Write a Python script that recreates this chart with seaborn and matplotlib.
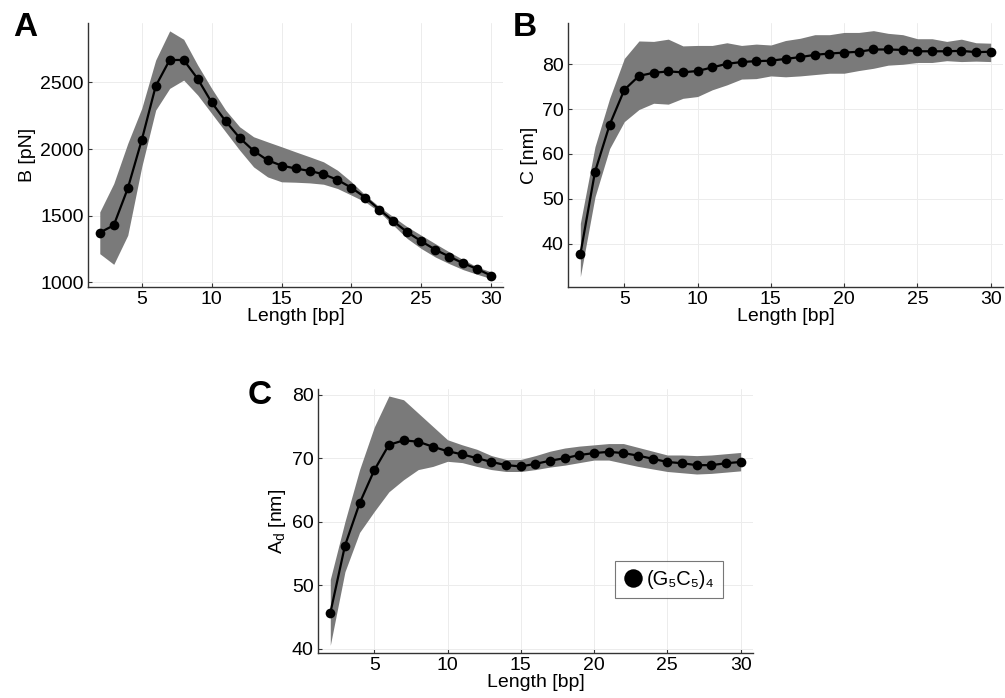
import matplotlib
matplotlib.use("Agg")
import matplotlib.pyplot as plt
import seaborn as sns
import numpy as np

length = list(range(2, 31))

# Panel A: B [pN]
b_mean = [1373, 1428, 1704, 2067, 2472, 2668, 2668, 2527, 2350, 2209, 2084, 1987, 1916, 1876,
          1854, 1836, 1811, 1769, 1709, 1636, 1546, 1458, 1376, 1308, 1245, 1193, 1143, 1100, 1050]
b_upper = [1528, 1741, 2042, 2305, 2668, 2886, 2823, 2630, 2455, 2292, 2167, 2092, 2054, 2017,
           1979, 1942, 1904, 1841, 1754, 1654, 1566, 1491, 1416, 1353, 1290, 1228, 1170, 1115, 1078]
b_lower = [1215, 1135, 1353, 1866, 2292, 2455, 2517, 2405, 2267, 2129, 1992, 1866, 1791, 1754,
           1751, 1746, 1736, 1704, 1654, 1603, 1528, 1428, 1328, 1253, 1190, 1140, 1095, 1060, 1028]

# Panel B: C [nm]
c_mean = [37.6, 56.0, 66.5, 74.3, 77.4, 78.1, 78.4, 78.2, 78.5, 79.3, 80.1, 80.5, 80.7, 80.8,
          81.2, 81.6, 82.1, 82.4, 82.6, 82.8, 83.3, 83.3, 83.2, 82.9, 82.9, 82.9, 83.0, 82.7, 82.8]
c_upper = [44.5, 61.6, 72.4, 81.3, 85.2, 85.1, 85.6, 84.1, 84.2, 84.2, 84.8, 84.2, 84.5, 84.3,
           85.3, 85.8, 86.6, 86.6, 87.1, 87.1, 87.5, 86.9, 86.6, 85.7, 85.7, 85.1, 85.6, 84.8, 84.7]
c_lower = [32.6, 50.4, 61.2, 67.2, 69.9, 71.3, 71.1, 72.4, 72.8, 74.3, 75.4, 76.7, 76.8, 77.4,
           77.2, 77.4, 77.7, 78.0, 78.0, 78.6, 79.1, 79.8, 80.0, 80.4, 80.4, 80.8, 80.6, 80.7, 80.6]

# Panel C: A_d [nm]
ad_mean = [45.6, 56.2, 62.9, 68.1, 72.1, 72.8, 72.6, 71.8, 71.1, 70.6, 70.0, 69.4, 68.9, 68.7,
           69.1, 69.6, 70.0, 70.5, 70.8, 71.0, 70.8, 70.4, 69.9, 69.4, 69.2, 68.9, 68.9, 69.2, 69.4]
ad_upper = [50.9, 60.0, 68.2, 74.9, 79.8, 79.2, 77.1, 75.0, 72.9, 72.1, 71.4, 70.4, 69.8, 69.8,
            70.4, 71.1, 71.6, 71.9, 72.1, 72.3, 72.3, 71.7, 71.1, 70.5, 70.5, 70.4, 70.5, 70.7, 70.9]
ad_lower = [40.5, 52.1, 58.3, 61.6, 64.7, 66.6, 68.2, 68.7, 69.5, 69.3, 68.7, 68.2, 67.9, 67.9,
            68.2, 68.6, 68.9, 69.3, 69.7, 69.7, 69.2, 68.7, 68.3, 67.9, 67.7, 67.5, 67.6, 67.8, 68.0]

legend_label = "(G\u2085C\u2085)\u2084"

sns.set_theme(style="whitegrid")
plt.rcParams["font.family"] = ["Liberation Sans", "DejaVu Sans"]
plt.rcParams["mathtext.fontset"] = "custom"
plt.rcParams["mathtext.rm"] = "Liberation Sans"
plt.rcParams["text.color"] = "black"
plt.rcParams["axes.labelcolor"] = "black"
plt.rcParams["xtick.color"] = "black"
plt.rcParams["ytick.color"] = "black"

fig = plt.figure(figsize=(10.05, 6.98), dpi=100)
ax_a = fig.add_axes([0.0876, 0.5888, 0.4129, 0.3782])
ax_b = fig.add_axes([0.5652, 0.5888, 0.4328, 0.3782])
ax_c = fig.add_axes([0.3164, 0.0645, 0.4328, 0.3782])


def draw_panel(ax, mean, lower, upper, ylabel, ylim, yticks, label=None):
    ax.fill_between(length, lower, upper, color="#7a7a7a", linewidth=0)
    sns.lineplot(x=length, y=mean, ax=ax, color="black", marker="o", markersize=7,
                 markeredgewidth=0, linewidth=1.6, label=label, legend=False)
    ax.set_xlim(1.16, 30.84)
    ax.set_ylim(*ylim)
    ax.set_xticks([5, 10, 15, 20, 25, 30])
    ax.set_yticks(yticks)
    ax.set_xlabel("Length [bp]", fontsize=14, labelpad=0)
    ax.set_ylabel(ylabel, fontsize=14, labelpad=3)
    ax.tick_params(axis="both", labelsize=14, direction="in", length=3, width=0.8,
                   color="#333333", labelcolor="black", pad=3, bottom=True, left=True)
    ax.grid(True, color="#ececec", linewidth=0.7)
    for side in ["top", "right"]:
        ax.spines[side].set_visible(False)
    for side in ["left", "bottom"]:
        ax.spines[side].set_color("#333333")
        ax.spines[side].set_linewidth(1.0)
    ax.set_facecolor("white")


draw_panel(ax_a, b_mean, b_lower, b_upper, "B [pN]", (965, 2945), [1000, 1500, 2000, 2500])
draw_panel(ax_b, c_mean, c_lower, c_upper, "C [nm]", (30.3, 89.2), [40, 50, 60, 70, 80])
draw_panel(ax_c, ad_mean, ad_lower, ad_upper, r"$\mathregular{A_d}$ [nm]", (39.3, 80.9),
           [40, 50, 60, 70, 80], label=legend_label)

leg = ax_c.legend(loc="center", bbox_to_anchor=(0.808, 0.277), fontsize=14.5, frameon=True,
                  fancybox=False, handlelength=0.8, handletextpad=0.3, borderpad=0.45,
                  markerscale=1.9)
leg.get_frame().set_edgecolor("#555555")
leg.get_frame().set_linewidth(0.8)
for h in leg.get_lines():
    h.set_linestyle("none")

fig.text(0.013, 0.948, "A", fontsize=24, fontweight="bold", va="baseline", color="black")
fig.text(0.510, 0.948, "B", fontsize=24, fontweight="bold", va="baseline", color="black")
fig.text(0.246, 0.421, "C", fontsize=24, fontweight="bold", va="baseline", color="black")

fig.savefig("out.png", dpi=100, facecolor="white")
